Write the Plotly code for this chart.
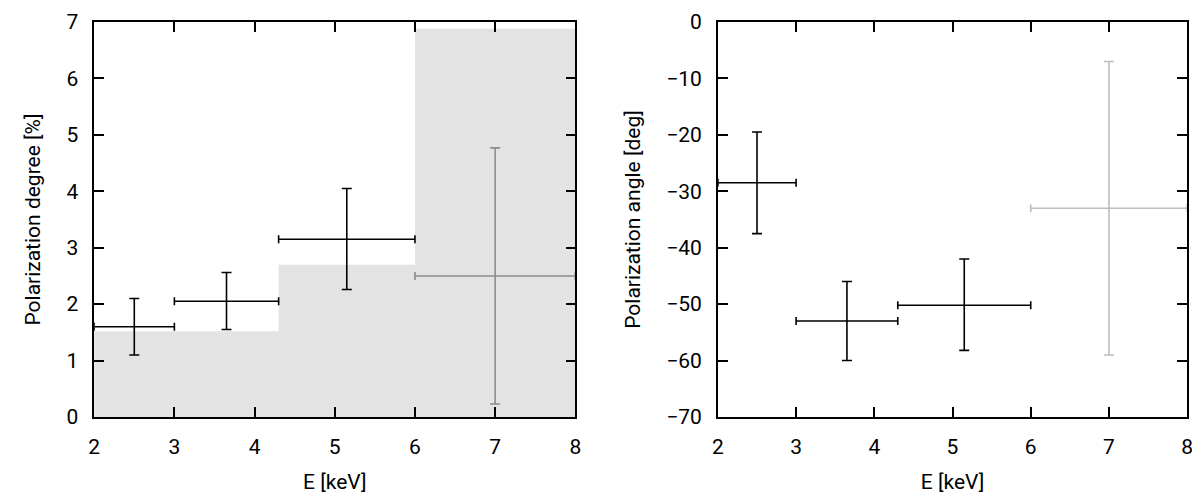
import plotly.graph_objects as go

# Left panel: polarization degree
e_lo = [2.0, 3.0, 4.3, 6.0]
e_hi = [3.0, 4.3, 6.0, 8.0]
e_mid = [2.5, 3.65, 5.15, 7.0]
pd_val = [1.6, 2.05, 3.15, 2.5]
pd_lo = [1.1, 1.55, 2.26, 0.23]
pd_hi = [2.1, 2.56, 4.05, 4.77]
mdp_edges = [2.0, 3.0, 4.3, 6.0, 8.0]
mdp_vals = [1.52, 1.52, 2.7, 6.88, 6.88]

# Right panel: polarization angle
pa_val = [-28.5, -53.0, -50.2, -33.0]
pa_lo = [-37.5, -60.0, -58.2, -59.0]
pa_hi = [-19.5, -46.0, -42.0, -7.0]

font = "Roboto"
fig = go.Figure()

fig.add_trace(go.Scatter(x=mdp_edges, y=mdp_vals, mode="lines", line=dict(shape="hv", width=0, color="#e3e3e3"),
                         fill="tozeroy", fillcolor="#e3e3e3", xaxis="x", yaxis="y", showlegend=False, hoverinfo="skip"))

def add_points(vals, lo, hi, xa, ya, colors):
    for i in range(len(vals)):
        fig.add_trace(go.Scatter(
            x=[e_mid[i]], y=[vals[i]], mode="markers", marker=dict(size=1, color=colors[i], opacity=0),
            error_x=dict(type="data", symmetric=False, array=[e_hi[i]-e_mid[i]], arrayminus=[e_mid[i]-e_lo[i]],
                         color=colors[i], thickness=1.6, width=4),
            error_y=dict(type="data", symmetric=False, array=[hi[i]-vals[i]], arrayminus=[vals[i]-lo[i]],
                         color=colors[i], thickness=1.6, width=5),
            xaxis=xa, yaxis=ya, showlegend=False, cliponaxis=False))

add_points(pd_val, pd_lo, pd_hi, "x", "y", ["#000000", "#000000", "#000000", "#8c8c8c"])
add_points(pa_val, pa_lo, pa_hi, "x2", "y2", ["#000000", "#000000", "#000000", "#bdbdbd"])

ax_common = dict(showline=True, linecolor="black", linewidth=1.6, mirror="ticks", ticks="inside",
                 ticklen=10, tickwidth=1.6, tickcolor="black", showgrid=False, zeroline=False,
                 tickfont=dict(family=font, size=21, color="black"),
                 title_font=dict(family=font, size=21, color="black"))

fig.update_layout(
    width=1200, height=495, margin=dict(l=0, r=0, t=14, b=86),
    plot_bgcolor="white", paper_bgcolor="white",
    xaxis=dict(domain=[81/1200, 567/1200], range=[2, 8], dtick=1, ticklabelstandoff=10,
               title=dict(text="E [keV]", standoff=16), anchor="y", **ax_common),
    yaxis=dict(domain=[0, 1], range=[0, 7], dtick=1, ticklabelstandoff=10,
               title=dict(text="Polarization degree [%]", standoff=20), anchor="x", **ax_common),
    xaxis2=dict(domain=[711/1200, 1185/1200], range=[2, 8], dtick=1, ticklabelstandoff=10,
                title=dict(text="E [keV]", standoff=16), anchor="y2", **ax_common),
    yaxis2=dict(domain=[0, 1], range=[-70, 0], dtick=10, ticklabelstandoff=10,
                title=dict(text="Polarization angle [deg]", standoff=20), anchor="x2", **ax_common),
)

fig.write_html("out.html")
